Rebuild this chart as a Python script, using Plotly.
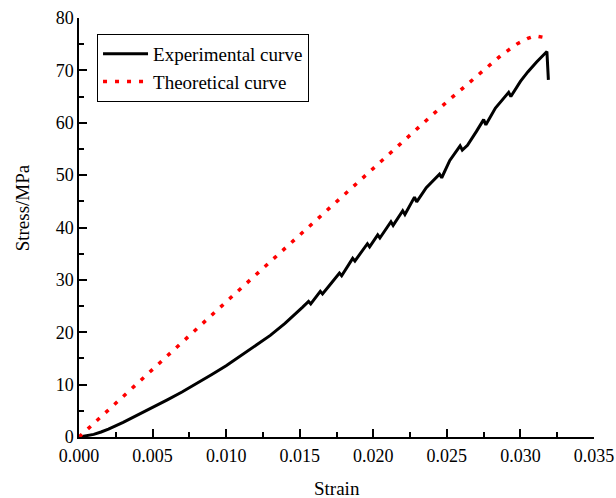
import plotly.graph_objects as go

# Experimental stress-strain record (strain, stress in MPa)
exp_strain = [0.0, 0.0005, 0.001, 0.0015, 0.002, 0.003, 0.004, 0.005, 0.006, 0.007,
              0.008, 0.009, 0.010, 0.011, 0.012, 0.013, 0.0140, 0.0146, 0.0152,
              0.0156, 0.01575, 0.0164, 0.01655, 0.0171, 0.0177, 0.01785, 0.0186,
              0.01875, 0.0196, 0.01975, 0.0203, 0.02045, 0.0212, 0.02135, 0.0220,
              0.02215, 0.0228, 0.02295, 0.0236, 0.0245, 0.02465, 0.0252, 0.0259,
              0.02605, 0.0264, 0.0270, 0.0275, 0.02765, 0.0283, 0.0292, 0.02935,
              0.0300, 0.0305, 0.0311, 0.0318, 0.0319]
exp_stress = [0.0, 0.2, 0.5, 0.95, 1.5, 2.8, 4.2, 5.6, 7.1, 8.6,
              10.2, 11.9, 13.6, 15.5, 17.4, 19.4, 21.7, 23.2, 24.8,
              25.9, 25.4, 27.8, 27.3, 29.2, 31.3, 30.8, 34.1,
              33.6, 36.9, 36.3, 38.6, 38.0, 41.1, 40.4, 43.2,
              42.5, 45.8, 44.9, 47.6, 50.2, 49.5, 52.8, 55.6,
              54.8, 55.7, 58.3, 60.6, 59.6, 62.8, 65.8, 65.0,
              67.9, 69.7, 71.6, 73.6, 68.2]

# Theoretical model curve
theo_strain = [0.0, 0.0025, 0.005, 0.0075, 0.010, 0.0125, 0.015, 0.0175, 0.020,
               0.0225, 0.025, 0.0265, 0.0276, 0.0287, 0.0298, 0.0305, 0.0310,
               0.0315, 0.0316]
theo_stress = [0.0, 6.5, 13.0, 19.4, 25.8, 32.2, 38.6, 45.0, 51.4,
               57.7, 64.0, 67.6, 70.3, 72.9, 75.1, 76.1, 76.6,
               76.4, 76.3]

serif = "Liberation Serif, Times New Roman, serif"

fig = go.Figure()
fig.add_trace(go.Scatter(
    x=exp_strain, y=exp_stress, mode="lines", name="Experimental curve",
    line=dict(color="black", width=3),
))
fig.add_trace(go.Scatter(
    x=theo_strain, y=theo_stress, mode="lines", name="Theoretical curve",
    line=dict(color="#ff0000", width=3.5, dash="4px,8px"),
))

axis_common = dict(
    showline=True, linecolor="black", linewidth=1.5,
    ticks="inside", ticklen=8, tickwidth=1.5, tickcolor="black",
    showgrid=False, zeroline=False, mirror=False, automargin=False,
    tickfont=dict(family=serif, size=18, color="black"),
)

fig.update_xaxes(
    range=[0, 0.035], dtick=0.005, tick0=0, tickformat=".3f",
    ticklabelstandoff=2,
    minor=dict(dtick=0.0025, ticks="inside", ticklen=5, tickwidth=1.5,
               tickcolor="black", showgrid=False),
    **axis_common,
)
fig.update_yaxes(
    range=[0, 80], dtick=10, tick0=0,
    minor=dict(dtick=5, ticks="inside", ticklen=5, tickwidth=1.5,
               tickcolor="black", showgrid=False),
    **axis_common,
)

# Axis titles
fig.add_annotation(
    text="Strain", xref="paper", yref="paper", x=0.5, y=-0.122,
    xanchor="center", yanchor="middle", showarrow=False,
    font=dict(family=serif, size=19, color="black"),
)
fig.add_annotation(
    text="Stress/MPa", xref="paper", yref="paper", x=-0.11, y=0.5465,
    xanchor="center", yanchor="middle", textangle=-90, showarrow=False,
    font=dict(family=serif, size=19, color="black"),
)

fig.update_layout(
    width=616, height=498,
    margin=dict(l=79, r=22, t=18, b=61, autoexpand=False),
    paper_bgcolor="white", plot_bgcolor="white",
    showlegend=True,
    legend=dict(
        x=0.035, y=0.962, xanchor="left", yanchor="top",
        bgcolor="white", bordercolor="black", borderwidth=1,
        font=dict(family=serif, size=19, color="black"),
        itemwidth=45, tracegroupgap=0,
    ),
)

fig.write_html("out.html")
